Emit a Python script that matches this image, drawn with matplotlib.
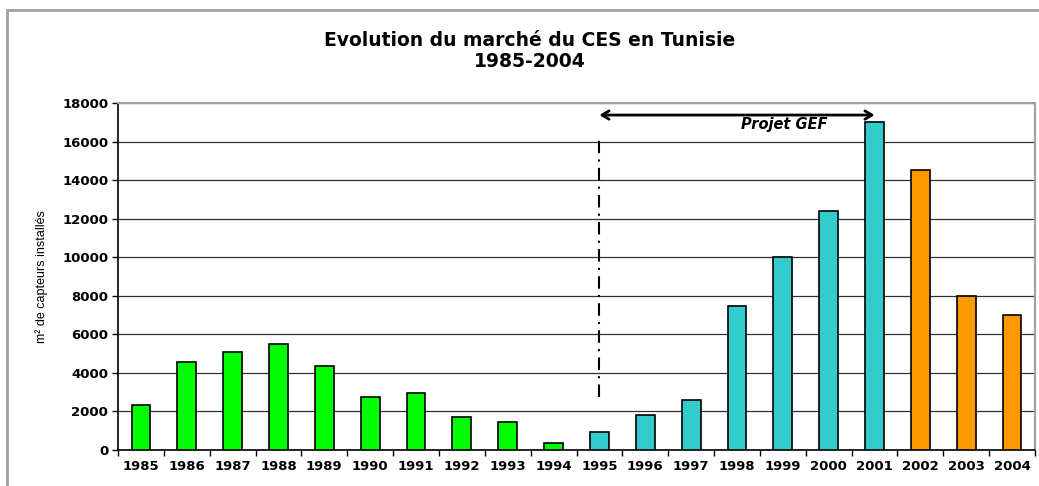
import matplotlib
matplotlib.use("Agg")
import matplotlib.pyplot as plt
from matplotlib.patches import Rectangle

years = [str(y) for y in range(1985, 2005)]
values = [2350, 4550, 5100, 5500, 4340, 2750, 2960, 1730, 1470, 350,
          920, 1830, 2580, 7470, 10000, 12400, 17000, 14500, 8000, 7000]
colors = ["#00FF00"] * 10 + ["#33CCCC"] * 7 + ["#FF9900"] * 3
yticks = list(range(0, 18001, 2000))
title = "Evolution du marché du CES en Tunisie\n1985-2004"
ylabel = "m² de capteurs installés"
annot = "Projet GEF"

plt.rcParams['font.family'] = ['DejaVu Sans']

W, H = 1039, 486
fig = plt.figure(figsize=(W / 100, H / 100), dpi=100)
fig.patch.set_facecolor("white")

# outer frame (clipped at right/bottom)
fig.patches.append(Rectangle((7 / W, -0.1), 1.2, 1 - 10 / H + 0.1,
                             transform=fig.transFigure, fill=False,
                             edgecolor="#A0A0A0", linewidth=2))

left, right, top, bottom = 118, 1035, 103, 450
ax = fig.add_axes([left / W, 1 - bottom / H, (right - left) / W, (bottom - top) / H])

x = list(range(len(years)))
ax.bar(x, values, width=0.41, color=colors, edgecolor="black", linewidth=1.2, zorder=3)

ax.set_xlim(-0.5, len(years) - 0.5)
ax.set_ylim(0, 18000)
ax.set_yticks(yticks)
ax.set_yticklabels([str(v) for v in yticks], fontsize=9.5, fontweight="bold")
ax.set_xticks(x)
ax.set_xticklabels(years, fontsize=9.5, fontweight="bold")
ax.tick_params(axis="x", length=0, pad=7)
ax.tick_params(axis="y", length=4, width=1, direction="out", pad=3)
# x boundary ticks
ax.set_xticks([i - 0.5 for i in range(len(years) + 1)], minor=True)
ax.tick_params(axis="x", which="minor", length=4, width=1, direction="out")

ax.grid(axis="y", color="#303030", linewidth=0.9, zorder=0)
ax.set_axisbelow(True)
for s in ["top", "right"]:
    ax.spines[s].set_color("#A0A0A0")
    ax.spines[s].set_linewidth(1.5)
for s in ["left", "bottom"]:
    ax.spines[s].set_color("black")
    ax.spines[s].set_linewidth(1.2)

ax.set_ylabel(ylabel, fontsize=9, family=["Liberation Sans Narrow", "Liberation Sans", "DejaVu Sans"],
              labelpad=10)

# GEF project annotation
ax.plot([10, 10], [2760, 16100], color="black", linestyle=(0, (6, 3, 1, 3)), linewidth=1.5, zorder=4)
ax.annotate("", xy=(10, 17375), xytext=(16, 17375),
            arrowprops=dict(arrowstyle="<->,head_length=0.5,head_width=0.3", color="black",
                            linewidth=2, shrinkA=0, shrinkB=0))
ax.text(14.04, 16880, annot, fontsize=10.5, fontweight="bold", fontstyle="italic",
        ha="center", va="center")

fig.text(530 / W, 1 - 51 / H, title, ha="center", va="center", fontsize=13.5,
         fontweight="bold", linespacing=1.12)

fig.savefig("out.png", dpi=100)
